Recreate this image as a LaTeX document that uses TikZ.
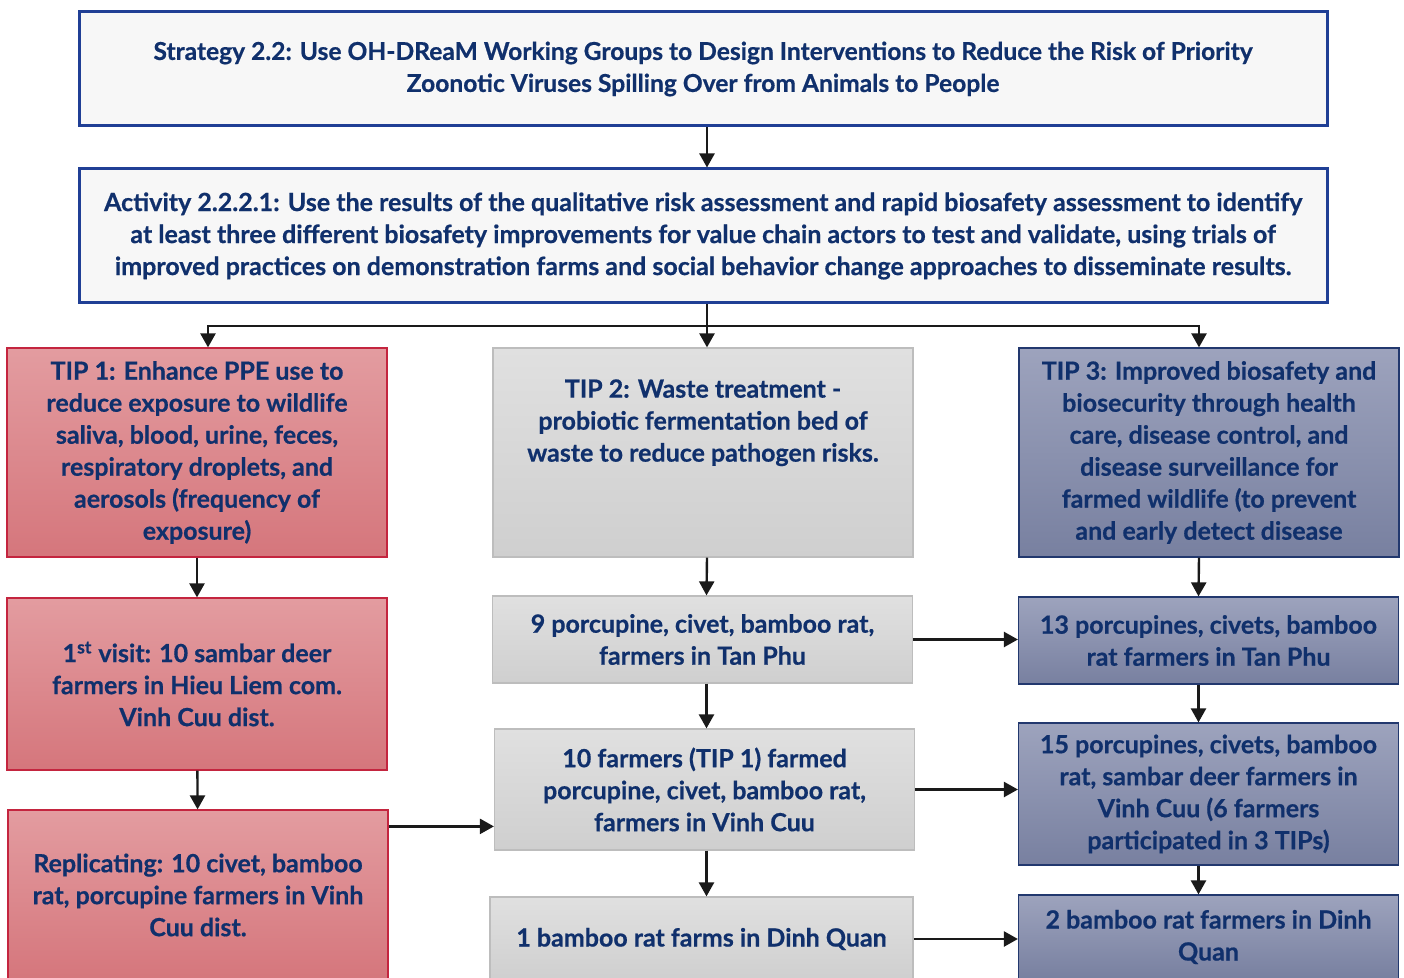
\documentclass[tikz,border=0pt]{standalone}
\usepackage{fontspec}
\setmainfont{Lato}[BoldFeatures={FakeBold=0.6}]
\usepackage{xcolor}
\usepackage{tikz}
\usetikzlibrary{arrows.meta, positioning, calc}
\definecolor{navytext}{HTML}{10306C}
\definecolor{stratblue}{HTML}{203F95}
\definecolor{paperwhite}{HTML}{F7F7F7}
\definecolor{redtop}{HTML}{E39CA0}
\definecolor{redbottom}{HTML}{D5767C}
\definecolor{redline}{HTML}{C4253F}
\definecolor{graytop}{HTML}{E0E0E0}
\definecolor{graybottom}{HTML}{CFCFCF}
\definecolor{grayline}{HTML}{BDBDBD}
\definecolor{bluetop}{HTML}{9DA3BD}
\definecolor{bluebottom}{HTML}{7880A0}
\definecolor{blueline}{HTML}{22386E}
\definecolor{arrowblack}{HTML}{1A1A1A}

\tikzset{
  box/.style={inner sep=0pt, align=center, text=navytext,
    font=\bfseries\fontsize{12.5}{16}\selectfont},
  headbox/.style={box, draw=stratblue, line width=1.5pt, fill=paperwhite,
    minimum width=624pt},
  tipred/.style={box, draw=redline, line width=0.6pt, top color=redtop,
    bottom color=redbottom, minimum width=190pt},
  tipgray/.style={box, draw=grayline, line width=0.6pt, top color=graytop,
    bottom color=graybottom, minimum width=210pt},
  tipblue/.style={box, draw=blueline, line width=0.6pt, top color=bluetop,
    bottom color=bluebottom, minimum width=190pt},
  arr/.style={draw=arrowblack, line width=1.2pt,
    -{Triangle[length=7pt,width=7.5pt]}}
}

\begin{document}
\begin{tikzpicture}[x=0.5pt, y=-0.5pt]
  \useasboundingbox (0,0) rectangle (1404,978);
  \clip (0,0) rectangle (1404,978);

  % Strategy and activity
  \node[headbox, minimum height=57pt, font=\bfseries\fontsize{12.3}{16}\selectfont] (strat) at (703,69)
    {Strategy 2.2: Use OH-DReaM Working Groups to Design Interventions to Reduce the Risk of Priority\\
     Zoonotic Viruses Spilling Over from Animals to People};
  \node[headbox, minimum height=67pt] (act) at (703,236)
    {Activity 2.2.2.1: Use the results of the qualitative risk assessment and rapid biosafety assessment to identify\\
     at least three different biosafety improvements for value chain actors to test and validate, using trials of\\
     improved practices on demonstration farms and social behavior change approaches to disseminate results.};

  % TIP 1 column
  \node[tipred, minimum height=104.5pt] (tip1) at (197,452.5)
    {TIP 1: Enhance PPE use to\\ reduce exposure to wildlife\\ saliva, blood, urine, feces,\\
     respiratory droplets, and\\ aerosols (frequency of\\ exposure)};
  \node[tipred, minimum height=86pt] (visit) at (197,684)
    {1\textsuperscript{st} visit: 10 sambar deer\\ farmers in Hieu Liem com.\\ Vinh Cuu dist.};
  \node[tipred, minimum height=85pt] (repl) at (198,895)
    {Replicating: 10 civet, bamboo\\ rat, porcupine farmers in Vinh\\ Cuu dist.};

  % TIP 2 column
  \node[tipgray, minimum height=104.5pt] (tip2) at (703,452.5)
    {TIP 2: Waste treatment -\\ probiotic fermentation bed of\\ waste to reduce pathogen risks.\\ ~\\ ~};
  \node[tipgray, minimum height=43.5pt] (tanphu) at (702.5,639.5)
    {9 porcupine, civet, bamboo rat,\\ farmers in Tan Phu};
  \node[tipgray, minimum height=60.5pt] (vinhcuu) at (704.5,789.5)
    {10 farmers (TIP 1) farmed\\ porcupine, civet, bamboo rat,\\ farmers in Vinh Cuu};
  \node[tipgray, minimum width=211.5pt, minimum height=42pt] (dinhquan) at (701.5,939)
    {1 bamboo rat farms in Dinh Quan};

  % TIP 3 column
  \node[tipblue, minimum height=104.5pt] (tip3) at (1209,452.5)
    {TIP 3: Improved biosafety and\\ biosecurity through health\\ care, disease control, and\\
     disease surveillance for\\ farmed wildlife (to prevent\\ and early detect disease};
  \node[tipblue, minimum height=43.5pt] (tanphu3) at (1208.5,640.5)
    {13 porcupines, civets, bamboo\\ rat farmers in Tan Phu};
  \node[tipblue, minimum height=71pt] (vinhcuu3) at (1208.5,794)
    {15 porcupines, civets, bamboo\\ rat, sambar deer farmers in\\ Vinh Cuu (6 farmers\\ participated in 3 TIPs)};
  \node[tipblue, minimum height=42pt] (dinhquan3) at (1208.5,937)
    {2 bamboo rat farmers in Dinh\\ Quan};

  % Connectors
  \coordinate (split) at ([xshift=2pt]act.south |- 0,326);
  \coordinate (repout) at ([yshift=-8.5pt]repl.north east);
  \draw[arr] ([xshift=2pt]strat.south) -- ([xshift=2pt]act.north);
  \draw[arr] ([xshift=2pt]act.south) -- ([xshift=2pt]tip2.north);
  \draw[arr] (split) -| ([xshift=5.5pt]tip1.north);
  \draw[arr] (split) -| ([xshift=-5pt]tip3.north);
  \draw[arr] (tip1) -- (visit);
  \draw[arr] (visit) -- (repl);
  \draw[arr] (repout) -- (repout -| vinhcuu.west);
  \draw[arr] ([xshift=2pt]tip2.south) -- ([xshift=2pt]tanphu.north);
  \draw[arr] ([xshift=2pt]tanphu.south) -- ([xshift=2pt]tanphu.south |- vinhcuu.north);
  \draw[arr] ([xshift=1pt]vinhcuu.south) -- ([xshift=1pt]vinhcuu.south |- dinhquan.north);
  \draw[arr] ([xshift=-5pt]tip3.south) -- ([xshift=-5pt]tanphu3.north);
  \draw[arr] ([xshift=-5pt]tanphu3.south) -- ([xshift=-5pt]vinhcuu3.north);
  \draw[arr] ([xshift=-5pt]vinhcuu3.south) -- ([xshift=-5pt]dinhquan3.north);
  \draw[arr] (tanphu) -- (tanphu -| tanphu3.west);
  \draw[arr] (vinhcuu) -- (vinhcuu -| vinhcuu3.west);
  \draw[arr] (dinhquan) -- (dinhquan -| dinhquan3.west);
\end{tikzpicture}
\end{document}
